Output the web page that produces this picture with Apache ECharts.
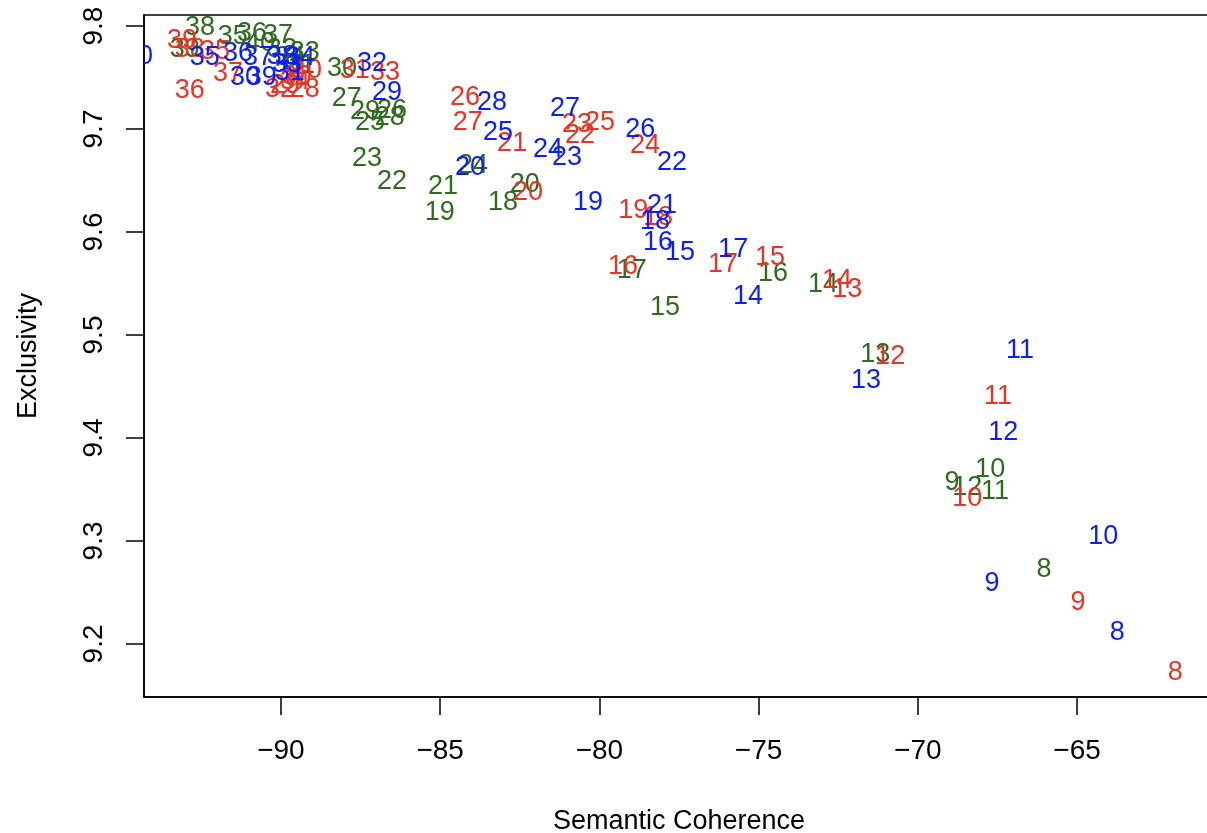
<!DOCTYPE html>
<html>
<head>
<meta charset="utf-8">
<script src="https://cdn.jsdelivr.net/npm/echarts@6/dist/echarts.min.js"></script>
<style>
html,body{margin:0;padding:0;background:#fff;}
#chart{width:1207px;height:833px;}
</style>
</head>
<body>
<div id="chart"></div>
<script>
// Number of topics (labels)
const kValues = [8,9,10,11,12,13,14,15,16,17,18,19,20,21,22,23,24,25,26,27,28,29,30,31,32,33,34,35,36,37,38,39,40];

const redX = [-61.92,-64.97,-68.45,-67.48,-70.87,-72.22,-72.54,-74.64,-79.26,-76.12,-78.16,-78.94,-82.24,-82.74,-80.61,-80.70,-78.57,-79.98,-84.22,-84.13,-89.25,-89.87,-89.50,-87.68,-90.03,-86.73,-89.56,-92.07,-92.86,-91.66,-92.86,-93.11,-89.18];
const redY = [9.172,9.240,9.341,9.440,9.479,9.544,9.553,9.575,9.566,9.568,9.614,9.621,9.638,9.686,9.694,9.704,9.684,9.706,9.731,9.706,9.738,9.742,9.751,9.757,9.738,9.755,9.746,9.775,9.737,9.754,9.777,9.786,9.757];

const blueX = [-63.74,-67.67,-64.18,-66.79,-67.32,-71.63,-75.33,-77.47,-78.16,-75.80,-78.25,-80.36,-84.06,-78.03,-77.72,-81.02,-81.61,-83.18,-78.72,-81.08,-83.37,-86.67,-91.13,-89.72,-87.14,-89.81,-89.40,-92.39,-91.35,-90.72,-89.97,-90.60,-94.49];
const blueY = [9.211,9.259,9.304,9.485,9.405,9.456,9.537,9.580,9.590,9.583,9.610,9.629,9.663,9.626,9.667,9.672,9.680,9.697,9.699,9.720,9.726,9.735,9.750,9.755,9.764,9.763,9.769,9.769,9.773,9.769,9.770,9.750,9.770];

const greenX = [-66.04,-68.93,-67.73,-67.58,-68.45,-71.34,-72.98,-77.94,-74.55,-78.98,-83.03,-85.01,-82.34,-84.91,-86.51,-87.30,-83.97,-87.20,-86.51,-87.93,-86.58,-87.36,-88.08,-89.40,-89.97,-89.25,-89.72,-91.51,-90.91,-90.09,-92.54,-93.02,-90.66];
const greenY = [9.272,9.357,9.369,9.348,9.352,9.481,9.549,9.527,9.560,9.563,9.629,9.619,9.646,9.644,9.649,9.671,9.665,9.706,9.718,9.730,9.711,9.717,9.759,9.762,9.777,9.774,9.769,9.790,9.793,9.791,9.799,9.777,9.783];

const xTicks = [-90,-85,-80,-75,-70,-65];
const yTicks = [9.2,9.3,9.4,9.5,9.6,9.7,9.8];

const FONT = '"Liberation Sans", Arial, Helvetica, sans-serif';

function build(xs, ys) {
  return kValues.map((k, i) => [xs[i], ys[i], k]);
}

function labelSeries(name, xs, ys, color) {
  return {
    name: name,
    type: 'custom',
    clip: true,
    data: build(xs, ys),
    encode: {x: 0, y: 1},
    renderItem: function (params, api) {
      const p = api.coord([api.value(0), api.value(1)]);
      return {
        type: 'text',
        x: p[0],
        y: p[1],
        style: {
          text: String(api.value(2)),
          fill: color,
          font: '27px ' + FONT,
          align: 'center',
          verticalAlign: 'middle'
        }
      };
    }
  };
}

const chart = echarts.init(document.getElementById('chart'), null, {renderer: 'canvas'});
chart.setOption({
  backgroundColor: '#ffffff',
  animation: false,
  grid: {
    left: 144, top: 15, right: -7, bottom: 136,
    containLabel: false,
    outerBoundsMode: 'none',
    show: true, borderColor: '#000', borderWidth: 1.5, backgroundColor: 'transparent'
  },
  xAxis: {
    type: 'value',
    min: -94.30, max: -60.70,
    name: 'Semantic Coherence',
    nameLocation: 'middle',
    nameGap: 111,
    nameTextStyle: {fontSize: 27, color: '#000', fontFamily: FONT},
    axisLine: {show: true, onZero: false, lineStyle: {color: '#000', width: 1.5}},
    axisTick: {show: true, length: 18, lineStyle: {color: '#000', width: 1.5}, customValues: xTicks},
    axisLabel: {
      show: true, margin: 40, fontSize: 28, color: '#000', fontFamily: FONT,
      customValues: xTicks,
      formatter: v => String(Math.round(v)).replace('-', '\u2212')
    },
    splitLine: {show: false}
  },
  yAxis: {
    type: 'value',
    min: 9.1485, max: 9.8107,
    name: 'Exclusivity',
    nameLocation: 'middle',
    nameGap: 102,
    nameRotate: 90,
    nameTextStyle: {fontSize: 27, color: '#000', fontFamily: FONT},
    axisLine: {show: true, onZero: false, lineStyle: {color: '#000', width: 1.5}},
    axisTick: {show: true, length: 18, lineStyle: {color: '#000', width: 1.5}, customValues: yTicks},
    axisLabel: {
      show: true, margin: 36, fontSize: 28, color: '#000', fontFamily: FONT, rotate: 90,
      customValues: yTicks,
      formatter: v => Number(v).toFixed(1)
    },
    splitLine: {show: false}
  },
  series: [
    labelSeries('green', greenX, greenY, '#2F6B1E'),
    labelSeries('red', redX, redY, '#EA3323'),
    labelSeries('blue', blueX, blueY, '#0A1EF5')
  ]
});
</script>
</body>
</html>
